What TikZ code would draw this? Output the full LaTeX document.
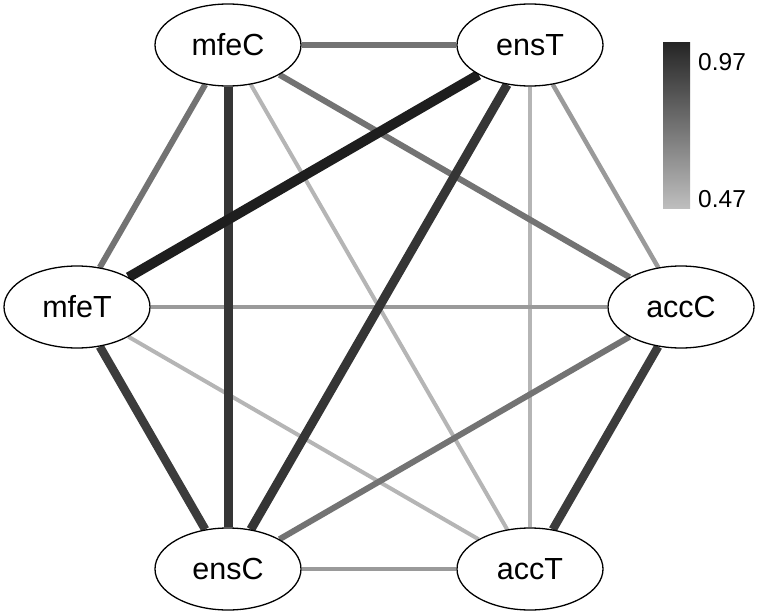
\documentclass[tikz,border=0pt]{standalone}
\usepackage{fontspec}
\setmainfont{Liberation Sans}
\usetikzlibrary{shapes.geometric,backgrounds}
\definecolor{cA}{HTML}{1E1E1E}
\definecolor{cB}{HTML}{353535}
\definecolor{cC}{HTML}{3C3C3C}
\definecolor{cD}{HTML}{737373}
\definecolor{cE}{HTML}{9A9A9A}
\definecolor{cF}{HTML}{B5B5B5}
\definecolor{cbLow}{HTML}{BEBEBE}
\definecolor{cbHigh}{HTML}{262626}
\begin{document}
\begin{tikzpicture}[x=1pt,y=-1pt,
  vert/.style={ellipse,draw=black,line width=1.3pt,fill=white,minimum width=146pt,minimum height=82pt,inner sep=0pt,font=\fontsize{30.5}{36}\selectfont},
  eA/.style={draw=cA,line width=10pt},
  eB/.style={draw=cB,line width=9pt},
  eC/.style={draw=cC,line width=8.5pt},
  eD/.style={draw=cD,line width=6pt},
  eE/.style={draw=cE,line width=4.5pt},
  eF/.style={draw=cF,line width=4pt},
  lbl/.style={anchor=west,inner sep=0pt,font=\fontsize{24.5}{28}\selectfont}]
\useasboundingbox (0,0) rectangle (757,615);
\node[vert] (mfeC) at (228,45) {mfeC};
\node[vert] (ensT) at (530,45) {ensT};
\node[vert] (mfeT) at (77,307) {mfeT};
\node[vert] (accC) at (681,307) {accC};
\node[vert] (ensC) at (228,569) {ensC};
\node[vert] (accT) at (530,569) {accT};
\begin{scope}[on background layer]
  \draw[eF] (mfeC) -- (accT);
  \draw[eF] (ensT) -- (accT);
  \draw[eF] (mfeT) -- (accT);
  \draw[eE] (ensT) -- (accC);
  \draw[eE] (mfeT) -- (accC);
  \draw[eE] (ensC) -- (accT);
  \draw[eD] (mfeC) -- (ensT);
  \draw[eD] (mfeC) -- (mfeT);
  \draw[eD] (mfeC) -- (accC);
  \draw[eD] (accC) -- (ensC);
  \draw[eC] (mfeT) -- (ensC);
  \draw[eC] (accC) -- (accT);
  \draw[eB] (mfeC) -- (ensC);
  \draw[eB] (ensT) -- (ensC);
  \draw[eA] (ensT) -- (mfeT);
\end{scope}
\shade[bottom color=cbLow,top color=cbHigh] (663,43) rectangle (690,208);
\node[lbl] (hi) at (698,62) {0.97};
\node[lbl] (lo) at (698,199) {0.47};
\end{tikzpicture}
\end{document}
